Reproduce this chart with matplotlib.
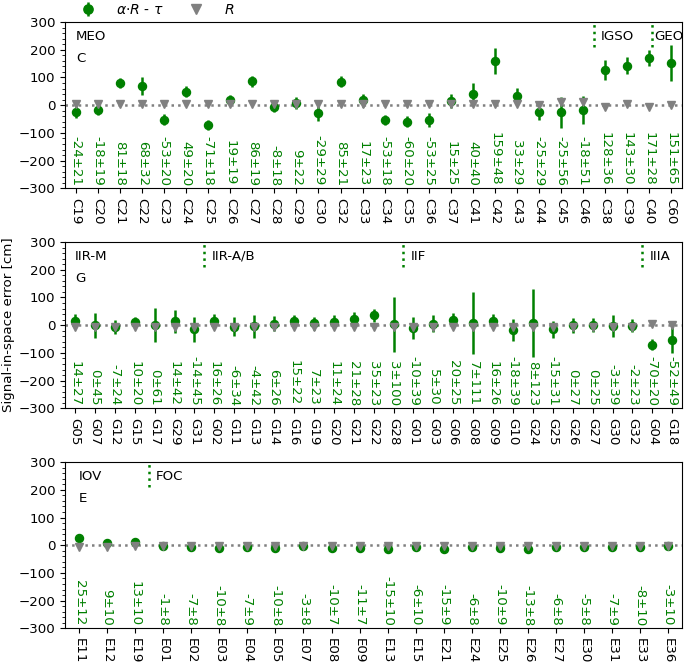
import matplotlib
matplotlib.use("Agg")
import matplotlib.pyplot as plt
import numpy as np

# ---------------- data ----------------
c_sats = ["C19", "C20", "C21", "C22", "C23", "C24", "C25", "C26", "C27", "C28", "C29", "C30",
          "C32", "C33", "C34", "C35", "C36", "C37", "C41", "C42", "C43", "C44", "C45", "C46",
          "C38", "C39", "C40", "C60"]
c_val = [-24, -18, 81, 68, -53, 49, -71, 19, 86, -8, 9, -29,
         85, 17, -53, -60, -53, 15, 40, 159, 33, -25, -25, -18,
         128, 143, 171, 151]
c_err = [21, 19, 18, 32, 20, 20, 18, 19, 19, 18, 22, 29,
         21, 23, 18, 20, 25, 25, 40, 48, 29, 29, 56, 51,
         36, 30, 28, 65]
c_R = [4, 4, 4, 4, 4, 4, 4, 4, 4, 4, 4, 4,
       4, 5, 4, 4, 4, 4, 4, 4, 4, 1, 11, 13,
       -5, 6, -8, 1]

g_sats = ["G05", "G07", "G12", "G15", "G17", "G29", "G31", "G02", "G11", "G13", "G14", "G16",
          "G19", "G20", "G21", "G22", "G28", "G01", "G03", "G06", "G08", "G09", "G10", "G24",
          "G25", "G26", "G27", "G30", "G32", "G04", "G18"]
g_val = [14, 0, -7, 10, 0, 14, -14, 16, -6, -4, 6, 15,
         7, 11, 21, 35, 3, -10, 5, 20, 7, 16, -18, 8,
         -15, 0, 0, -3, -2, -70, -52]
g_err = [27, 45, 24, 20, 61, 42, 45, 26, 34, 42, 26, 22,
         23, 24, 28, 23, 100, 39, 30, 25, 111, 26, 39, 123,
         31, 27, 25, 39, 23, 20, 49]
g_R = [-5, -5, -5, -5, -5, -5, -5, -5, -5, -5, -5, -5,
       -5, -5, -5, -5, -5, -5, -5, -5, -5, -5, -5, -5,
       -5, -5, -5, -5, -5, 3, 1]

e_sats = ["E11", "E12", "E19", "E01", "E02", "E03", "E04", "E05", "E07", "E08", "E09", "E13",
          "E15", "E21", "E24", "E25", "E26", "E27", "E30", "E31", "E33", "E36"]
e_val = [25, 9, 13, -1, -7, -10, -7, -10, -3, -10, -11, -15,
         -6, -15, -6, -10, -13, -6, -5, -7, -8, -3]
e_err = [12, 10, 10, 8, 8, 8, 9, 8, 8, 7, 7, 10,
         10, 9, 8, 9, 8, 8, 8, 9, 10, 10]
e_R = [-5, -5, -3, -3, -3, -3, -3, -3, -3, -3, -3, -3,
       -3, -3, -3, -3, -3, -3, -3, -3, -3, -3]

# group label: (label, position of separating line or None, x of text)
c_groups = [("MEO", None, 0), ("IGSO", 23.5, 23.5), ("GEO", 26.15, 26.15)]
g_groups = [("IIR-M", None, 0), ("IIR-A/B", 6.5, 6.5), ("IIF", 16.5, 16.5), ("IIIA", 28.5, 28.5)]
e_groups = [("IOV", None, 0), ("FOC", 2.5, 2.5)]

panels = [("C", c_sats, c_val, c_err, c_R, c_groups),
          ("G", g_sats, g_val, g_err, g_R, g_groups),
          ("E", e_sats, e_val, e_err, e_R, e_groups)]

FS = 9.6
plt.rcParams["font.family"] = ["DejaVu Sans"]
plt.rcParams["font.size"] = FS

fig = plt.figure(figsize=(6.85, 6.65), dpi=100)
left, width = 0.0949, 0.901
bottoms = [0.7168, 0.3860, 0.0551]
height = 0.2500

handles = None
for (sys_name, sats, vals, errs, Rs, groups), b in zip(panels, bottoms):
    ax = fig.add_axes([left, b, width, height])
    x = np.arange(len(sats))
    eb = ax.errorbar(x, vals, yerr=errs, fmt="o", color="green", ms=5.8,
                     elinewidth=1.8, capsize=0, zorder=2, label=r"$\alpha{\cdot}R$ - $\tau$")
    tri, = ax.plot(x, Rs, "v", color="grey", ms=6.2, ls="none", zorder=3, label=r"$R$")
    ax.axhline(0, color="grey", ls=":", lw=1.8, zorder=1)
    for xi, v, e in zip(x, vals, errs):
        ax.text(xi, -291, f"{v}\u00b1{e}", rotation=-90, color="green",
                ha="center", va="bottom", fontsize=FS, zorder=4)
    for lab, line_x, tx in groups:
        if line_x is not None:
            ax.plot([line_x, line_x], [210, 300], color="green", ls=":", lw=1.8, zorder=1)
            off = 1.5 if lab == "GEO" else 5
            ax.annotate(lab, xy=(tx, 248), xytext=(off, 0), textcoords="offset points",
                        ha="left", va="center", fontsize=FS)
        else:
            ax.text(tx, 248, lab, ha="left", va="center", fontsize=FS)
    ax.text(0, 170, sys_name, ha="left", va="center", fontsize=FS)
    ax.set_xlim(-0.5, len(sats) - 0.5)
    ax.set_ylim(-300, 300)
    ax.set_yticks([-300, -200, -100, 0, 100, 200, 300])
    ax.set_yticks(np.arange(-300, 301, 20), minor=True)
    ax.set_xticks(x)
    ax.set_xticklabels(sats, rotation=-90, fontsize=FS)
    ax.tick_params(axis="y", labelsize=FS)
    if handles is None:
        handles = [eb, tri]
        ax.legend(handles=handles, labels=[r"$\alpha{\cdot}R$ - $\tau$", r"$R$"],
                  loc="lower left", bbox_to_anchor=(0.005, 0.995), ncol=2, frameon=False,
                  fontsize=FS * 1.05, borderaxespad=0.0, columnspacing=1.3, handletextpad=1.0,
                  markerscale=1.15)

fig.text(0.012, 0.511, "Signal-in-space error [cm]", rotation=90, ha="center", va="center",
         fontsize=FS)

fig.savefig("out.png", dpi=100)
